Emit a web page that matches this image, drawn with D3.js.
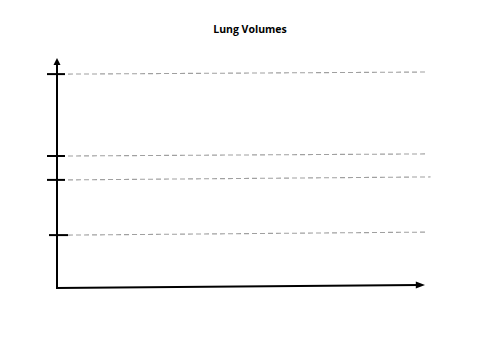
<!DOCTYPE html>
<html><head><meta charset="utf-8">
<script src="https://cdn.jsdelivr.net/npm/d3@7/dist/d3.min.js"></script>
<style>html,body{margin:0;padding:0;background:#fff;}</style>
</head><body>
<script>
const title = "Lung Volumes";
const levelNames = ["TLC", "IC level", "FRC", "RV"];
const levelsLeft = [93, 57.4, 47, 23];
const levelsRight = [93.9, 58.3, 48.3, 24.3];
const xAxisEnd = [0, 1.3];

const W = 500, H = 353;
const svg = d3.select("body").append("svg").attr("width", W).attr("height", H);
const x = d3.scaleLinear().domain([0, 100]).range([57, 425]);
const y = d3.scaleLinear().domain([0, 100]).range([288, 58]);

svg.append("text").attr("x", 250).attr("y", 33).attr("text-anchor", "middle")
  .attr("font-family", "Open Sans, Liberation Sans, sans-serif").attr("font-weight", "bold")
  .attr("font-size", 10.5).attr("fill", "#000").text(title);

// dashed level lines
svg.selectAll("line.lvl").data(levelNames).enter().append("line")
  .attr("x1", x(3)).attr("y1", (d, i) => y(levelsLeft[i]))
  .attr("x2", (d, i) => i === 2 ? x(101.5) : x(100)).attr("y2", (d, i) => y(levelsRight[i]))
  .attr("stroke", "#a0a0a0").attr("stroke-width", 1.1).attr("stroke-dasharray", "5,3");

// y axis
svg.append("line").attr("x1", x(0)).attr("y1", y(0)).attr("x2", x(0)).attr("y2", y(99))
  .attr("stroke", "#000").attr("stroke-width", 2);
svg.append("path").attr("d", `M${x(0)},${y(100)} L${x(0)-3.5},${y(97)} L${x(0)+3.5},${y(97)} Z`).attr("fill", "#000");

// x axis
svg.append("line").attr("x1", x(0) - 1).attr("y1", y(0)).attr("x2", x(98.5)).attr("y2", y(xAxisEnd[1]))
  .attr("stroke", "#000").attr("stroke-width", 2);
svg.append("path").attr("d", `M${x(100)},${y(xAxisEnd[1])} L${x(97.5)},${y(xAxisEnd[1])-3.5} L${x(97.5)},${y(xAxisEnd[1])+3.5} Z`).attr("fill", "#000");

// ticks
svg.selectAll("line.tk").data(levelNames).enter().append("line")
  .attr("x1", (d, i) => i === 3 ? x(0) - 8 : x(0) - 10)
  .attr("x2", (d, i) => i === 3 ? x(0) + 11 : x(0) + 8)
  .attr("y1", (d, i) => y(levelsLeft[i])).attr("y2", (d, i) => y(levelsLeft[i]))
  .attr("stroke", "#000").attr("stroke-width", 2);
</script>
</body></html>
